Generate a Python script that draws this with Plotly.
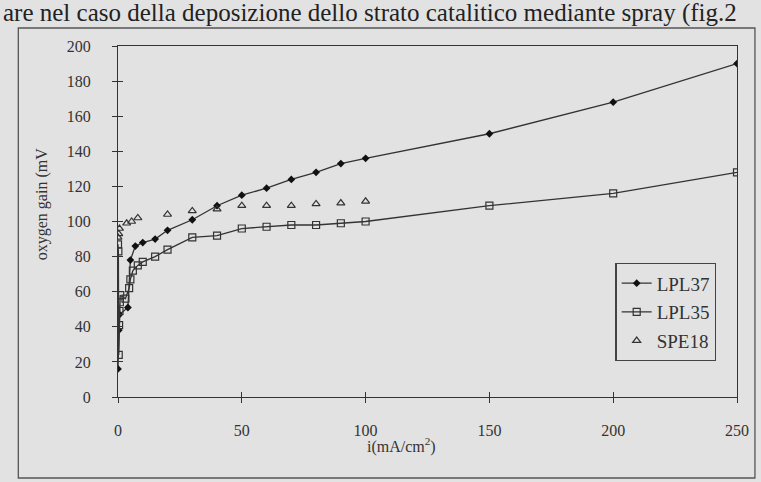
import plotly.graph_objects as go

# ---- data ----
lpl37_x = [0, 0.3, 0.6, 4, 5, 7, 10, 15, 20, 30, 40, 50, 60, 70, 80, 90, 100, 150, 200, 250]
lpl37_y = [16, 38, 47, 51, 78, 86, 88, 90, 95, 101, 109, 115, 119, 124, 128, 133, 136, 150, 168, 190]

lpl35_x = [0, 0.15, 0.3, 0.45, 0.6, 0.75, 0.9, 3, 4.5, 5, 6, 8, 10, 15, 20, 30, 40, 50, 60, 70, 80, 90, 100, 150, 200, 250]
lpl35_y = [87, 83, 24, 41, 49, 54, 58, 56, 62, 67, 72, 75, 77, 80, 84, 91, 92, 96, 97, 98, 98, 99, 100, 109, 116, 128]

spe18_x = [0, 0.3, 0.6, 3.5, 5.5, 8, 20, 30, 40, 50, 60, 70, 80, 90, 100]
spe18_y = [91, 93, 96, 99, 100, 102, 104, 106, 107, 109, 109, 109, 110, 110.5, 111.5]

x_ticks = [0, 50, 100, 150, 200, 250]
y_ticks = [0, 20, 40, 60, 80, 100, 120, 140, 160, 180, 200]

header_text = "are nel caso della deposizione dello strato catalitico mediante spray (fig.2"
x_title = "i(mA/cm<sup>2</sup>)"
y_title = "oxygen gain (mV"

# ---- layout geometry (pixels) ----
W, H = 761, 482
L, R, T, B = 118, 739, 46, 397
BG = "#e2e2e2"
INK = "#333333"
FONT = "Liberation Serif"


def px_x(p):
    return (p - L) / (R - L)


def px_y(p):
    return (B - p) / (B - T)


fig = go.Figure()
fig.add_trace(go.Scatter(
    x=lpl37_x, y=lpl37_y, name="LPL37", mode="lines+markers",
    line=dict(color=INK, width=1.3),
    marker=dict(symbol="diamond", size=6, color="#111111"),
    legendgroup="a"))
fig.add_trace(go.Scatter(
    x=lpl35_x, y=lpl35_y, name="LPL35", mode="lines+markers",
    line=dict(color=INK, width=1.3),
    marker=dict(symbol="square-open", size=7, color=INK, line=dict(width=1.2)),
    legendgroup="b"))
fig.add_trace(go.Scatter(
    x=spe18_x, y=spe18_y, name="SPE18", mode="markers",
    marker=dict(symbol="triangle-up-open", size=7, color=INK, line=dict(width=1.2)),
    legendgroup="c"))

axis_common = dict(showgrid=False, zeroline=False, linecolor=INK, linewidth=1.3,
                   tickcolor=INK, tickwidth=1.2, ticklen=5,
                   tickfont=dict(family=FONT, size=16, color=INK))

fig.update_layout(
    width=W, height=H,
    margin=dict(l=L, r=W - R, t=T, b=H - B),
    paper_bgcolor=BG, plot_bgcolor=BG,
    font=dict(family=FONT, color=INK),
    xaxis=dict(range=[0, 250], tickvals=x_ticks, ticks="outside", mirror=True,
               ticklabelstandoff=14, **axis_common),
    yaxis=dict(range=[0, 200], tickvals=y_ticks, ticks="outside", mirror=True,
               ticklabelstandoff=18, **axis_common),
    xaxis2=dict(range=[0, 250], tickvals=x_ticks, ticks="inside", overlaying="x",
                side="bottom", showticklabels=False, showline=False,
                showgrid=False, zeroline=False, tickcolor=INK, tickwidth=1.2, ticklen=5),
    yaxis2=dict(range=[0, 200], tickvals=y_ticks, ticks="inside", overlaying="y",
                side="left", showticklabels=False, showline=False,
                showgrid=False, zeroline=False, tickcolor=INK, tickwidth=1.2, ticklen=5),
    showlegend=True,
    legend=dict(x=px_x(617), y=px_y(263), xanchor="left", yanchor="top",
                bgcolor=BG, bordercolor="#444444", borderwidth=1.3,
                font=dict(family=FONT, size=19, color=INK),
                tracegroupgap=1, itemwidth=30),
)

# invisible trace to activate the overlay axes
fig.add_trace(go.Scatter(x=[None], y=[None], xaxis="x2", yaxis="y2",
                         showlegend=False, hoverinfo="skip"))

# header text line from the scanned page
fig.add_annotation(text=header_text, xref="paper", yref="paper",
                   x=px_x(1), y=px_y(13), xanchor="left", yanchor="middle",
                   showarrow=False, font=dict(family=FONT, size=25, color="#222222"))
# axis titles
fig.add_annotation(text=x_title, xref="paper", yref="paper",
                   x=px_x(402), y=px_y(445), xanchor="center", yanchor="middle",
                   showarrow=False, font=dict(family=FONT, size=16, color=INK))
fig.add_annotation(text=y_title, xref="paper", yref="paper",
                   x=px_x(42), y=px_y(204), xanchor="center", yanchor="middle",
                   textangle=-90, showarrow=False,
                   font=dict(family=FONT, size=16, color=INK))

# outer frame of the figure on the page
fig.add_shape(type="rect", xref="paper", yref="paper",
              x0=px_x(18), x1=px_x(757), y0=px_y(478), y1=px_y(28),
              line=dict(color="#555555", width=1.3), layer="below")

fig.write_html("out.html", config={"displayModeBar": False},
               post_script="document.body.style.margin='0';document.body.style.padding='0';")
